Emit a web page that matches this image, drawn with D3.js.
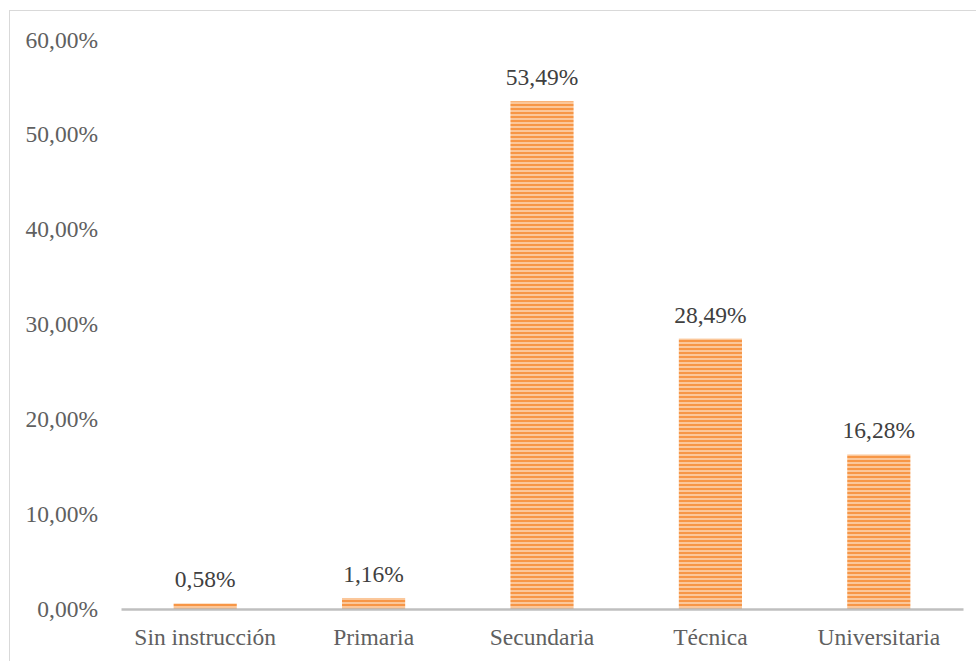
<!DOCTYPE html>
<html><head><meta charset="utf-8">
<script src="https://cdn.jsdelivr.net/npm/d3@7"></script>
<style>body{margin:0;background:#fff}svg{display:block}
svg text{font-family:"Liberation Serif","Times New Roman",serif !important;}</style>
</head><body>
<script>
const categories = ["Sin instrucción", "Primaria", "Secundaria", "Técnica", "Universitaria"];
const values = [0.58, 1.16, 53.49, 28.49, 16.28];
const yTicks = [0, 10, 20, 30, 40, 50, 60];

const W = 976, H = 661;
const svg = d3.select("body").append("svg").attr("width", W).attr("height", H);

const defs = svg.append("defs");
const pat = defs.append("pattern").attr("id", "stripes").attr("patternUnits", "userSpaceOnUse")
  .attr("width", 8).attr("height", 4);
pat.append("rect").attr("width", 8).attr("height", 4).attr("fill", "#FBC79A");
pat.append("rect").attr("width", 8).attr("height", 2).attr("fill", "#F79646");

// chart border
svg.append("rect").attr("x", 9.5).attr("y", 10.5).attr("width", W + 20).attr("height", H + 20)
  .attr("fill", "none").attr("stroke", "#d9d9d9").attr("stroke-width", 1);

const x = d3.scaleBand().domain(categories).range([121, 963]).paddingInner(0.625).paddingOuter(0.3125);
const y = d3.scaleLinear().domain([0, 60]).range([609, 39.5]);

const fs = 23.5;

// y axis labels
const yAxis = d3.axisLeft(y).tickValues(yTicks).tickSize(0).tickPadding(0)
  .tickFormat(d => d3.format(".2f")(d).replace(".", ",") + "%");
const gy = svg.append("g").attr("transform", "translate(98,0)").call(yAxis);
gy.select(".domain").remove();
gy.selectAll("text").attr("font-size", fs).attr("fill", "#606060");

// bars
svg.append("g").selectAll("rect").data(values).join("rect")
  .attr("x", (d, i) => x(categories[i]))
  .attr("y", d => y(d))
  .attr("width", x.bandwidth())
  .attr("height", d => y(0) - y(d))
  .attr("fill", "url(#stripes)");

// x axis
const xAxis = d3.axisBottom(x).tickSize(0).tickPadding(19);
const gx = svg.append("g").attr("transform", "translate(0,609)").call(xAxis);
gx.select(".domain").attr("stroke", "#bfbfbf").attr("stroke-width", 2.5);
gx.selectAll("text").attr("font-size", fs).attr("fill", "#606060");

// data labels
svg.append("g").selectAll("text").data(values).join("text")
  .attr("x", (d, i) => x(categories[i]) + x.bandwidth() / 2)
  .attr("y", d => y(d) - 16)
  .attr("text-anchor", "middle")
  .attr("font-size", fs).attr("fill", "#404040")
  .text(d => d3.format(".2f")(d).replace(".", ",") + "%");
</script>
</body></html>
